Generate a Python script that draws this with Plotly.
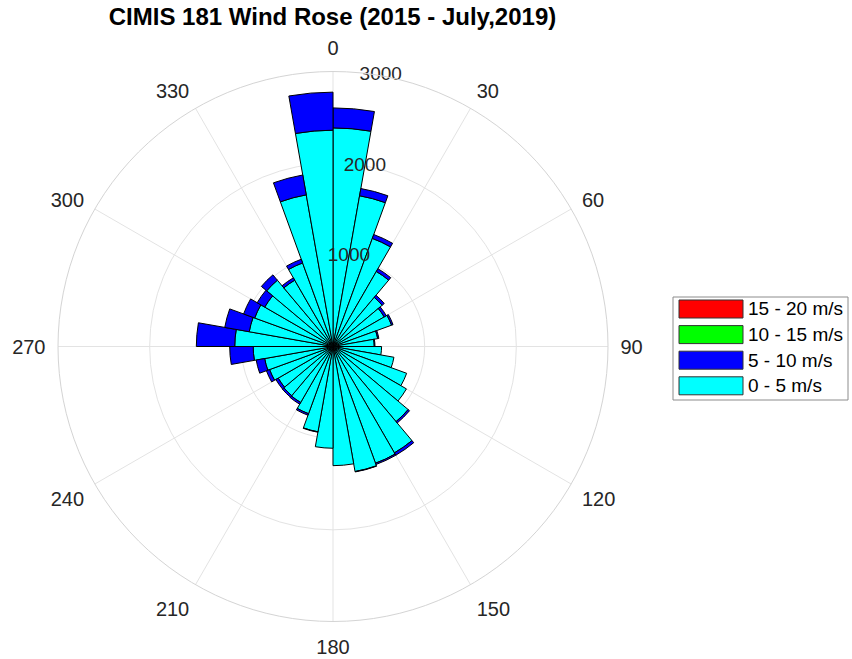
import plotly.graph_objects as go

# Direction bin centres (degrees, compass, 10-degree bins starting at 0)
directions = [5, 15, 25, 35, 45, 55, 65, 75, 85, 95, 105, 115,
              125, 135, 145, 155, 165, 175, 185, 195, 205, 215, 225, 235,
              245, 255, 265, 275, 285, 295, 305, 315, 325, 335, 345, 355]

# Counts per speed class (stacked)
speed_0_5 = [2385, 1670, 1255, 945, 700, 645, 680, 495, 450, 530, 675, 855,
             925, 1070, 1340, 1355, 1385, 1300, 1110, 945, 780, 705, 700, 690,
             736, 757, 871, 1072, 928, 909, 860, 944, 835, 970, 1680, 2360]
speed_5_10 = [218, 80, 45, 35, 30, 27, 17, 13, 8, 0, 0, 0,
              0, 20, 30, 15, 5, 0, 0, 5, 18, 22, 22, 30,
              37, 94, 256, 419, 271, 129, 95, 76, 30, 43, 220, 415]
speed_10_15 = [0, 0, 0, 0, 0, 0, 0, 0, 0, 0, 0, 0,
               0, 0, 0, 0, 0, 0, 0, 0, 0, 0, 0, 0,
               0, 0, 0, 0, 0, 0, 0, 0, 0, 0, 0, 0]
speed_15_20 = [0, 0, 0, 0, 0, 0, 0, 0, 0, 0, 0, 0,
               0, 0, 0, 0, 0, 0, 0, 0, 0, 0, 0, 0,
               0, 0, 0, 0, 0, 0, 0, 0, 0, 0, 0, 0]

series_names = ["0 - 5 m/s", "5 - 10 m/s", "10 - 15 m/s", "15 - 20 m/s"]
series_colors = ["#00FFFF", "#0000FF", "#00FF00", "#FF0000"]
series_values = [speed_0_5, speed_5_10, speed_10_15, speed_15_20]

angle_ticks = [0, 30, 60, 90, 120, 150, 180, 210, 240, 270, 300, 330]
angle_labels = ["0", "30", "60", "90", "120", "150", "180", "210", "240", "270", "300", "330"]
radial_ticks = [1000, 2000, 3000]
radial_labels = ["1000", "2000", "3000"]

title_text = "CIMIS 181 Wind Rose (2015 - July,2019)"
FONT = "Liberation Sans, Arial, sans-serif"
TEXT_COLOR = "#262626"

W, H = 852, 659


def px(x):
    return x / W


def py(y):
    return 1 - y / H


fig = go.Figure()

for name, color, vals in zip(series_names, series_colors, series_values):
    fig.add_trace(go.Barpolar(
        r=vals, theta=directions, width=10, name=name,
        marker=dict(color=color, line=dict(color="black", width=1)),
        showlegend=False,
    ))

# Radial tick labels placed on the 10-degree radial line
fig.add_trace(go.Scatterpolar(
    r=radial_ticks, theta=[10] * len(radial_ticks), mode="text",
    text=radial_labels, textposition="middle center",
    textfont=dict(size=19, color=TEXT_COLOR, family=FONT),
    showlegend=False, hoverinfo="skip",
))

cx, cy, rad = 333, 346.5, 275
fig.update_layout(
    width=W, height=H,
    margin=dict(l=0, r=0, t=0, b=0),
    paper_bgcolor="white",
    title=dict(text=title_text, x=px(332.5), xanchor="center", y=py(17),
               yanchor="middle", yref="container",
               font=dict(size=24, family=FONT, color="black", weight="bold")),
    polar=dict(
        domain=dict(x=[px(cx - rad), px(cx + rad)],
                    y=[py(cy + rad), py(cy - rad)]),
        bgcolor="white",
        barmode="stack",
        angularaxis=dict(
            rotation=90, direction="clockwise",
            tickmode="array", tickvals=angle_ticks, ticktext=angle_labels,
            tickfont=dict(size=20, color=TEXT_COLOR, family=FONT),
            ticks="outside", ticklen=8, tickcolor="rgba(0,0,0,0)",
            showline=True, linecolor="#d4d4d4", linewidth=1,
            gridcolor="#e3e3e3", gridwidth=1,
        ),
        radialaxis=dict(
            range=[0, 3000], tickmode="array", tickvals=radial_ticks,
            showticklabels=False, ticks="", showline=False,
            gridcolor="#e3e3e3", gridwidth=1, angle=80,
        ),
    ),
)

# Legend drawn as boxed swatches (MATLAB style), top-to-bottom: 15-20 ... 0-5
box_x0, box_x1, box_y0, box_y1 = 673, 848, 297, 400
fig.add_shape(type="rect", xref="paper", yref="paper",
              x0=px(box_x0), x1=px(box_x1), y0=py(box_y1), y1=py(box_y0),
              line=dict(color="#8c8c8c", width=1), fillcolor="white")
row_h = 25.6
first_row = 309
for i, (name, color) in enumerate(zip(series_names[::-1], series_colors[::-1])):
    yc = first_row + i * row_h
    fig.add_shape(type="rect", xref="paper", yref="paper",
                  x0=px(679), x1=px(743), y0=py(yc + 9), y1=py(yc - 9),
                  line=dict(color="#333333", width=1), fillcolor=color)
    fig.add_annotation(x=px(746), y=py(yc), xref="paper", yref="paper",
                       text=name, showarrow=False, xanchor="left", yanchor="middle",
                       font=dict(size=19, color="black", family=FONT))

fig.write_html("out.html",
               config={"displayModeBar": False},
               post_script="document.body.style.margin='0';"
                           "document.body.style.overflow='hidden';")
